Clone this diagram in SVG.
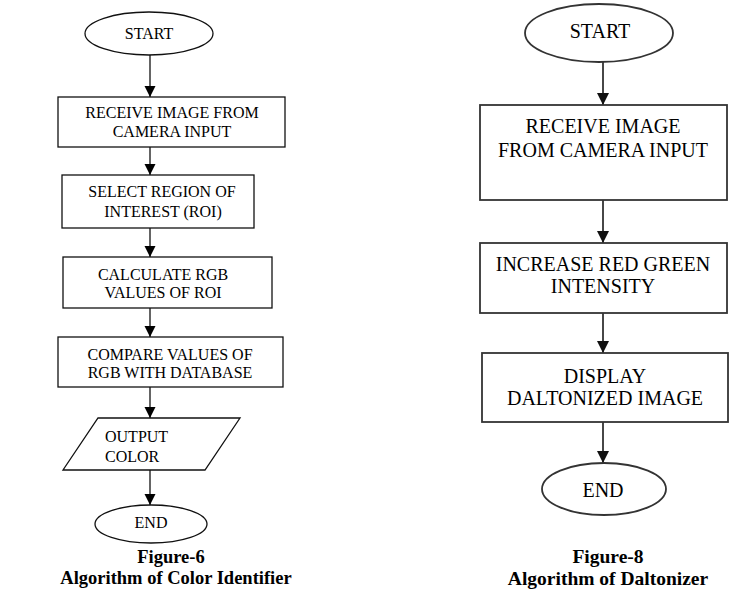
<svg xmlns="http://www.w3.org/2000/svg" width="753" height="598" viewBox="0 0 753 598">
<style>
.s{fill:#fff;stroke:#111;stroke-width:1.3}
.s2{fill:#fff;stroke:#333;stroke-width:1.8}
.t{font-family:"Liberation Serif","Times New Roman",serif;font-size:16px;fill:#000;text-anchor:middle}
.t2{font-family:"Liberation Serif","Times New Roman",serif;font-size:20px;fill:#000;text-anchor:middle}
.c{font-family:"Liberation Serif","Times New Roman",serif;font-weight:bold;fill:#000;text-anchor:middle}
.e{stroke:#111;stroke-width:1.3;fill:none}
.e2{stroke:#333;stroke-width:1.8;fill:none}
</style>
<defs>
<marker id="a" markerUnits="userSpaceOnUse" markerWidth="12" markerHeight="13" refX="11" refY="5.5" orient="auto"><path d="M0,0 L11,5.5 L0,11 Z" fill="#000"/></marker>
<marker id="b" markerUnits="userSpaceOnUse" markerWidth="14" markerHeight="14" refX="12" refY="6" orient="auto"><path d="M0,0 L12,6 L0,12 Z" fill="#111"/></marker>
</defs>
<rect width="753" height="598" fill="#fff"/>
<g id="connectors">
<line class="e" x1="150" y1="55" x2="150" y2="97" marker-end="url(#a)"/>
<line class="e" x1="150" y1="147" x2="150" y2="175" marker-end="url(#a)"/>
<line class="e" x1="150" y1="228" x2="150" y2="257" marker-end="url(#a)"/>
<line class="e" x1="150" y1="308" x2="150" y2="337" marker-end="url(#a)"/>
<line class="e" x1="150" y1="387" x2="150" y2="418" marker-end="url(#a)"/>
<line class="e" x1="150" y1="470" x2="150" y2="505" marker-end="url(#a)"/>
<line class="e2" x1="603" y1="62" x2="603" y2="105" marker-end="url(#b)"/>
<line class="e2" x1="603" y1="200" x2="603" y2="243" marker-end="url(#b)"/>
<line class="e2" x1="603" y1="313" x2="603" y2="353" marker-end="url(#b)"/>
<line class="e2" x1="603" y1="422" x2="603" y2="463" marker-end="url(#b)"/>
</g>
<g id="l-start"><ellipse class="s" cx="149" cy="33.5" rx="64" ry="21.5"/><text class="t" x="149" y="39">START</text></g>
<g id="l-receive"><rect class="s" x="58" y="97" width="227" height="50"/><text class="t" x="172" y="118">RECEIVE IMAGE FROM</text><text class="t" x="172" y="137">CAMERA INPUT</text></g>
<g id="l-select"><rect class="s" x="62" y="175" width="192" height="53"/><text class="t" x="162" y="197">SELECT REGION OF</text><text class="t" x="163" y="217">INTEREST (ROI)</text></g>
<g id="l-calc"><rect class="s" x="63" y="257" width="209" height="51"/><text class="t" x="163" y="280">CALCULATE RGB</text><text class="t" x="163" y="298">VALUES OF ROI</text></g>
<g id="l-compare"><rect class="s" x="58" y="337" width="225" height="50"/><text class="t" x="170" y="360">COMPARE VALUES OF</text><text class="t" x="170" y="378">RGB WITH DATABASE</text></g>
<g id="l-output"><polygon class="s" points="98,418 240,418 205,470 63,470"/><text class="t" x="105" y="442" style="text-anchor:start">OUTPUT</text><text class="t" x="105" y="462" style="text-anchor:start">COLOR</text></g>
<g id="l-end"><ellipse class="s" cx="151" cy="524" rx="56" ry="19"/><text class="t" x="151" y="528">END</text></g>
<g id="l-caption"><text class="c" x="171" y="563" font-size="18.5">Figure-6</text><text class="c" x="176" y="584" font-size="18.5">Algorithm of Color Identifier</text></g>
<g id="r-start"><ellipse class="s2" cx="599" cy="33" rx="74" ry="29"/><text class="t2" x="600" y="38">START</text></g>
<g id="r-receive"><rect class="s2" x="480" y="105" width="247" height="95"/><text class="t2" x="603" y="133">RECEIVE IMAGE</text><text class="t2" x="603" y="157">FROM CAMERA INPUT</text></g>
<g id="r-increase"><rect class="s2" x="480" y="243" width="247" height="70"/><text class="t2" x="603" y="271">INCREASE RED GREEN</text><text class="t2" x="603" y="293">INTENSITY</text></g>
<g id="r-display"><rect class="s2" x="482" y="353" width="246" height="69"/><text class="t2" x="605" y="383">DISPLAY</text><text class="t2" x="605" y="405">DALTONIZED IMAGE</text></g>
<g id="r-end"><ellipse class="s2" cx="604" cy="489" rx="62" ry="26"/><text class="t2" x="603" y="497">END</text></g>
<g id="r-caption"><text class="c" x="608" y="563" font-size="19.5">Figure-8</text><text class="c" x="608" y="585" font-size="19.5">Algorithm of Daltonizer</text></g>
</svg>
